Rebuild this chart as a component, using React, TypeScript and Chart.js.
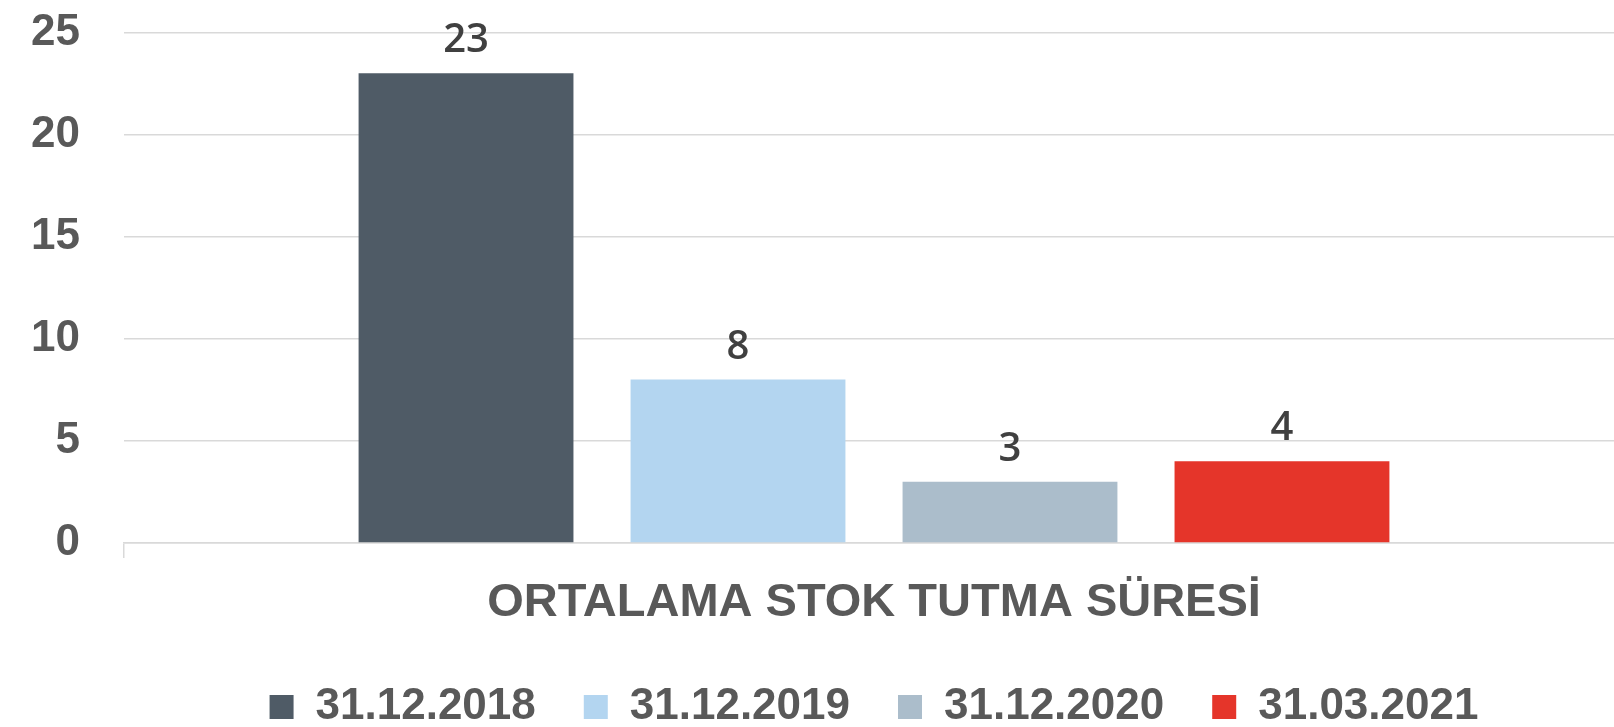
import React, { useEffect, useRef } from "react";
import { Chart, registerables } from "chart.js";

Chart.register(...registerables);

const categories = ["ORTALAMA STOK TUTMA SÜRESİ"];
const seriesLabels = ["31.12.2018", "31.12.2019", "31.12.2020", "31.03.2021"];
const seriesValues = [23, 8, 3, 4];
const seriesColors = ["#4F5B66", "#B3D5F0", "#ABBDCB", "#E5352A"];
const yMin = 0;
const yMax = 25;
const yStep = 5;

const FONT = "'Liberation Sans', Arial, sans-serif";

const valueLabels = {
  id: "valueLabels",
  afterDatasetsDraw(chart: any) {
    const ctx = chart.ctx;
    ctx.save();
    ctx.font = `600 40px 'Open Sans', ${FONT}`;
    ctx.fillStyle = "#404040";
    ctx.textAlign = "center";
    ctx.textBaseline = "alphabetic";
    chart.data.datasets.forEach((ds: any, i: number) => {
      const meta = chart.getDatasetMeta(i);
      meta.data.forEach((el: any, j: number) => {
        ctx.fillText(String(ds.data[j]), el.x, el.y - 21);
      });
    });
    ctx.restore();
  },
};

export default function App() {
  const ref = useRef<HTMLCanvasElement>(null);
  useEffect(() => {
    if (!ref.current) return;
    Chart.defaults.font.family = FONT;
    const chart = new Chart(ref.current, {
      type: "bar",
      data: {
        labels: categories,
        datasets: seriesLabels.map((label, i) => ({
          label,
          data: [seriesValues[i]],
          backgroundColor: seriesColors[i],
          borderWidth: 0,
          categoryPercentage: 0.7253,
          barPercentage: 0.79,
        })),
      },
      options: {
        responsive: false,
        animation: false,
        layout: { padding: { top: 7, right: 16, bottom: 1, left: 0 } },
        plugins: {
          tooltip: { enabled: false },
          legend: {
            position: "bottom",
            fullSize: false,
            labels: {
              boxWidth: 24,
              boxHeight: 24,
              padding: 48,
              color: "#595959",
              font: { size: 44, weight: "bold", family: FONT },
            },
          },
        },
        scales: {
          x: {
            offset: true,
            grid: {
              display: true,
              offset: true,
              drawOnChartArea: false,
              drawTicks: true,
              tickLength: 15,
              color: "#d9d9d9",
              lineWidth: 1.5,
            },
            border: { display: true, color: "#d9d9d9", width: 1.5 },
            ticks: {
              color: "#595959",
              padding: 17,
              maxRotation: 0,
              autoSkip: false,
              font: { size: 47, weight: "bold", family: FONT },
            },
            afterFit: (s: any) => {
              s.height = 94;
            },
          },
          y: {
            min: yMin,
            max: yMax,
            ticks: {
              stepSize: yStep,
              color: "#595959",
              padding: 44,
              font: { size: 44, weight: "bold", family: FONT },
            },
            grid: { color: "#d9d9d9", lineWidth: 1.5, drawTicks: false },
            border: { display: false },
            afterFit: (s: any) => {
              s.width = 124;
            },
          },
        },
      },
      plugins: [valueLabels],
    });
    return () => chart.destroy();
  }, []);

  return (
    <div
      style={{
        position: "fixed",
        left: 0,
        top: 0,
        width: 1614,
        height: 727,
        overflow: "hidden",
        background: "#fff",
      }}
    >
      <canvas
        ref={ref}
        width={1640}
        height={778}
        style={{ width: 1640, height: 778, display: "block", marginTop: -38 }}
      />
    </div>
  );
}
